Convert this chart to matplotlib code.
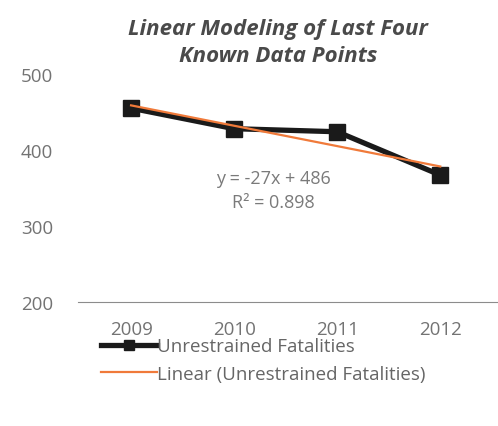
import matplotlib.pyplot as plt
import numpy as np

years = ['2009', '2010', '2011', '2012']
fatalities = [455, 428, 424, 367]
yticks = [200, 300, 400, 500]

plt.rcParams['font.family'] = ['Open Sans', 'DejaVu Sans']

fig = plt.figure(figsize=(4.98, 4.27), dpi=100)
ax = fig.add_axes([0.1566, 0.2904, 0.8434, 0.534])

x = np.arange(len(years))
# linear trend (Excel numbers periods from 1)
slope, icpt = np.polyfit(x + 1, fatalities, 1)
trend = slope * (x + 1) + icpt

ax.plot(x, fatalities, color='#1a1a1a', lw=3.8, marker='s', ms=11,
        label='Unrestrained Fatalities', zorder=3)
ax.plot(x, trend, color='#f07a3a', lw=1.6, label='Linear (Unrestrained Fatalities)', zorder=4)

ax.set_xlim(-0.515, 3.56)
ax.set_ylim(200, 500)
ax.set_xticks(x)
ax.set_xticklabels(years)
ax.set_yticks(yticks)
ax.tick_params(axis='both', length=0, labelsize=13.5, colors='#737373')
ax.tick_params(axis='x', pad=13)
ax.tick_params(axis='y', pad=18)
for s in ['top', 'right', 'left']:
    ax.spines[s].set_visible(False)
ax.spines['bottom'].set_color('#8c8c8c')

ax.text(1.38, 347, 'y = -27x + 486\nR² = 0.898', ha='center', va='center',
        fontsize=13, color='#7a7a7a', linespacing=1.45)

fig.text(0.558, 0.9, 'Linear Modeling of Last Four\nKnown Data Points', ha='center',
         va='center', fontsize=16, fontweight='bold', style='italic',
         color='#4a4a4a', linespacing=1.35)

fig.legend(loc='upper left', bbox_to_anchor=(0.188, 0.225), frameon=False,
           fontsize=13.5, handlelength=3.0, handletextpad=0.0, labelspacing=0.5,
           markerscale=0.6, labelcolor='#666666', borderaxespad=0)

fig.savefig('out.png', dpi=100)
